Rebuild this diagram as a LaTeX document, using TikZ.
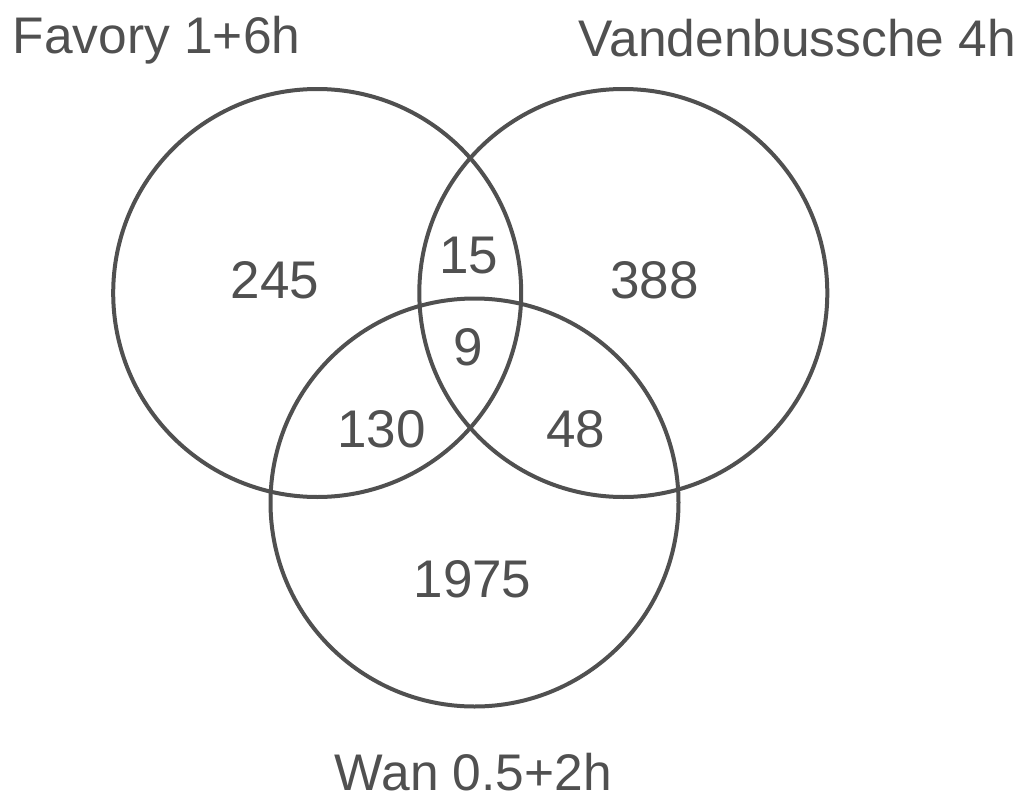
\documentclass[tikz,border=0pt]{standalone}
\usepackage{fontspec}
\setmainfont{Liberation Sans}
\definecolor{ink}{HTML}{505050}
\begin{document}
\begin{tikzpicture}[x=1pt, y=-1pt,
  set/.style={circle, draw=ink, line width=4pt, minimum size=408pt, inner sep=0pt},
  count/.style={text=ink, inner sep=0pt, anchor=base, font=\fontsize{53}{53}\selectfont},
  title/.style={text=ink, inner sep=0pt, anchor=base, font=\fontsize{51.5}{52}\selectfont}]
  \useasboundingbox (0,0) rectangle (1023,795);
  % the three sets
  \node[set] (fav) at (317.2,293) {};
  \node[set] (van) at (623.3,293) {};
  \node[set] (wan) at (474.5,502.5) {};
  % set names
  \node[title] (tfav) at (156.5,53.3) {Favory 1+6h};
  \node[title] (tvan) at (797.5,56.7) {Vandenbussche 4h};
  \node[title] (twan) at (473.3,790.5) {Wan 0.5+2h};
  % region counts
  \node[count] (n1) at (275,298) {245};
  \node[count] (n2) at (654.7,298.3) {388};
  \node[count] (n3) at (472.5,597.7) {1975};
  \node[count] (n12) at (468.5,273) {15};
  \node[count] (n13) at (381.7,447.7) {130};
  \node[count] (n23) at (576,447.7) {48};
  \node[count] (n123) at (468.5,365) {9};
\end{tikzpicture}
\end{document}
